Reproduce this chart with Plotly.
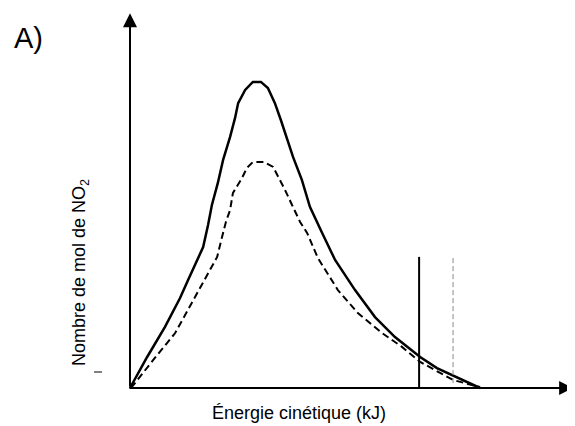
import plotly.graph_objects as go

# Kinetic energy (arbitrary units) and number of mol of NO2 (arbitrary units)
solid_x = [0, 4.9, 10.0, 14.3, 16.6, 19.1, 20.9, 22.3, 23.4, 25.1, 26.6, 28.6, 30.0, 30.9,
           32.9, 35.1, 37.4, 39.4, 41.4, 43.1, 44.9, 46.6, 49.1, 51.4, 54.9, 58.6, 64.3,
           70.0, 75.7, 82.9, 87.7, 93.4, 100]
solid_y = [0, 10.1, 19.9, 29.3, 35.2, 41.7, 45.9, 53.1, 59.6, 66.8, 74.3, 81.8, 87.9, 92.8,
           97.1, 99.7, 99.7, 97.7, 92.8, 87.3, 81.4, 75.2, 67.8, 59.0, 50.5, 41.7, 31.9,
           23.1, 16.6, 10.1, 6.5, 3.6, 0]

dashed_x = [0.3, 1.4, 7.1, 12.9, 18.6, 22.9, 24.9, 26.3, 27.4, 28.6, 29.4, 32.0, 33.4, 35.1,
            38.3, 40.9, 42.9, 44.3, 46.3, 48.6, 50.6, 53.7, 59.4, 65.1, 72.0, 77.7, 82.9,
            88.6, 92.3, 100]
dashed_y = [0, 1.6, 9.8, 17.9, 29.6, 38.4, 42.7, 49.2, 54.1, 58.0, 63.5, 68.4, 71.7, 73.6,
            73.6, 72.0, 67.8, 64.5, 59.6, 54.1, 50.5, 42.3, 31.9, 24.4, 17.9, 13.4, 8.5,
            4.9, 2.6, 0.3]

ea_solid_x = [82.6, 82.6]
ea_solid_y = [0, 42.7]
ea_dashed_x = [92.3, 92.3]
ea_dashed_y = [1.6, 42.7]

x_axis_end = 126.6
y_axis_end = 122.1

fig = go.Figure()
fig.add_trace(go.Scatter(x=solid_x, y=solid_y, mode="lines",
                         line=dict(color="black", width=2.5), showlegend=False))
fig.add_trace(go.Scatter(x=dashed_x, y=dashed_y, mode="lines",
                         line=dict(color="black", width=2, dash="7px,4px"), showlegend=False))
fig.add_trace(go.Scatter(x=ea_solid_x, y=ea_solid_y, mode="lines",
                         line=dict(color="black", width=2), showlegend=False))
fig.add_trace(go.Scatter(x=ea_dashed_x, y=ea_dashed_y, mode="lines",
                         line=dict(color="#8a8a8a", width=1, dash="5px,3px"), showlegend=False))

font = dict(family="Liberation Sans, Arial, sans-serif", color="black")

# page offset (browser body margin) compensation
OFF = 8
W, H = 575 - OFF, 426 - OFF
# plot area in reference pixels: x 100..575, y 8..406
PX0, PX1, PY0, PY1 = 100, 575, 8, 406
L, R, T, B = PX0 - OFF, 0, PY0 - OFF, H - (PY1 - OFF)


def paper(px, py):
    return (px - PX0) / (PX1 - PX0), (PY1 - py) / (PY1 - PY0)


texts = [
    (28, 38, "A)", 29, 0),
    (299, 413, "Énergie cinétique (kJ)", 18, 0),
    (80, 273, "Nombre de mol de NO<sub>2</sub>", 18, -90),
]

annotations = [
    dict(x=x_axis_end, y=0, ax=-0.6, ay=0, xref="x", yref="y", axref="x", ayref="y",
         text="", showarrow=True, arrowhead=2, arrowsize=1.4, arrowwidth=2, arrowcolor="black"),
    dict(x=0, y=y_axis_end, ax=0, ay=0, xref="x", yref="y", axref="x", ayref="y",
         text="", showarrow=True, arrowhead=2, arrowsize=1.4, arrowwidth=2, arrowcolor="black"),
]
for px, py, t, s, ang in texts:
    xp, yp = paper(px, py)
    annotations.append(dict(x=xp, y=yp, xref="paper", yref="paper", text=t, showarrow=False,
                            xanchor="center", yanchor="middle",
                            textangle=ang, font=dict(size=s, **font)))

dx0, dy0 = paper(94, 372)
dx1, _ = paper(102, 372)

fig.update_layout(
    width=W, height=H,
    margin=dict(l=L, r=R, t=T, b=B),
    paper_bgcolor="white", plot_bgcolor="white",
    xaxis=dict(range=[-8.571, 127.14], visible=False, fixedrange=True),
    yaxis=dict(range=[-5.863, 123.78], visible=False, fixedrange=True),
    annotations=annotations,
    shapes=[dict(type="line", xref="paper", yref="paper",
                 x0=dx0, x1=dx1, y0=dy0, y1=dy0,
                 line=dict(color="black", width=1))],
)

fig.write_html("out.html")
